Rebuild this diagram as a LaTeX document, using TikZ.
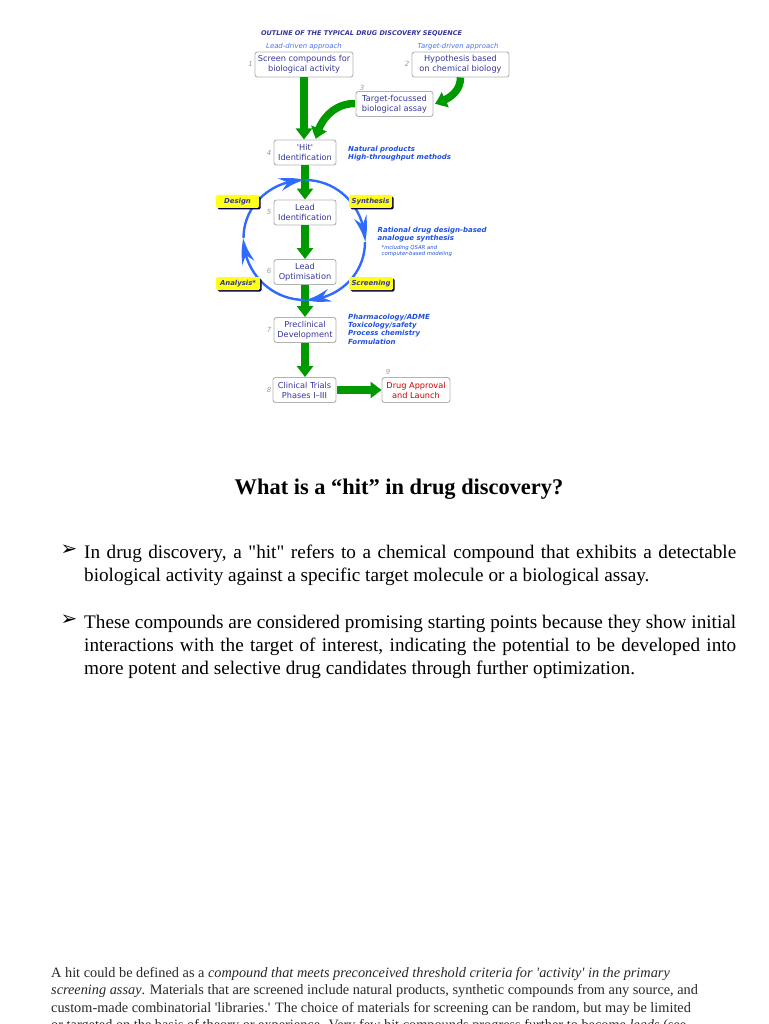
\documentclass[tikz,border=0pt]{standalone}
\usepackage{fontspec}
\setmainfont{Liberation Serif}[Ligatures=TeXOff]
\newfontfamily\chartfont{DejaVu Sans}
\usetikzlibrary{arrows.meta,bending,shadows}
\definecolor{chartnavy}{HTML}{35359A}
\definecolor{chartblue}{HTML}{1F4FE0}
\definecolor{chartgreen}{HTML}{009A00}
\definecolor{cycleblue}{HTML}{2F6BFF}
\definecolor{chartyellow}{HTML}{FFFF1A}
\tikzset{
  stagebox/.style={draw=black!30,line width=0.9pt,rounded corners=2.5pt,inner sep=0pt,align=center,
    text=chartnavy,font=\chartfont\fontsize{8.2}{10}\selectfont},
  tagbox/.style={fill=chartyellow,rounded corners=1.5pt,minimum width=43pt,minimum height=13pt,inner sep=0pt,
    text=chartnavy,font=\chartfont\fontsize{6.9}{8}\selectfont\bfseries\itshape,
    drop shadow={shadow xshift=1.5pt,shadow yshift=-1.5pt,fill=black!70!blue,opacity=1}},
  note/.style={anchor=north west,inner sep=0pt,align=left,text=chartblue,font=\chartfont\fontsize{7}{8.2}\selectfont\bfseries\itshape},
  stepnum/.style={inner sep=0pt,text=black!40,font=\chartfont\itshape\fontsize{7}{8}\selectfont},
  flow/.style={chartgreen,line width=7.5pt,-{Triangle[length=11pt,width=16pt,bend]}},
  cyclearc/.style={cycleblue,line width=2.4pt,-{Stealth[length=26pt,width=13pt,bend]}},
  para/.style={anchor=north west,inner sep=0pt,text width=652pt,align=justify,font=\fontsize{19.2}{23}\selectfont}
}
\begin{document}
\begin{tikzpicture}[x=1pt,y=-1pt]
      \useasboundingbox (0,0) rectangle (768,1024);
      \clip (0,0) rectangle (768,1024);
      \draw
        (361.5,34) node[text=chartnavy,inner sep=0pt,font=\chartfont\fontsize{6.5}{8}\selectfont\bfseries\itshape] (title){OUTLINE OF THE TYPICAL DRUG DISCOVERY SEQUENCE}
        (304,46.5) node[text=chartblue!80,inner sep=0pt,font=\chartfont\itshape\fontsize{6.9}{8}\selectfont] (leadhead){Lead-driven approach}
        (458,46.5) node[text=chartblue!80,inner sep=0pt,font=\chartfont\itshape\fontsize{6.9}{8}\selectfont] (targethead){Target-driven approach}
        (304,64.5) node[stagebox,minimum width=98pt,minimum height=25pt] (screen){Screen compounds for\\biological activity}
        (460.5,64.5) node[stagebox,minimum width=97pt,minimum height=25pt] (hypothesis){Hypothesis based\\on chemical biology}
        (394.5,104) node[stagebox,minimum width=77pt,minimum height=25pt] (assay){Target-focussed\\biological assay}
        (305,152.5) node[stagebox,minimum width=62pt,minimum height=25pt] (hit){'Hit'\\Identification}
        (305,212.5) node[stagebox,minimum width=62pt,minimum height=25pt] (leadid){Lead\\Identification}
        (305,272) node[stagebox,minimum width=62pt,minimum height=25pt] (leadopt){Lead\\Optimisation}
        (305,330) node[stagebox,minimum width=62pt,minimum height=25pt] (preclin){Preclinical\\Development}
        (304.5,390) node[stagebox,minimum width=63pt,minimum height=25pt] (trials){Clinical Trials\\Phases I–III}
        (416,390) node[stagebox,minimum width=68pt,minimum height=25pt,text=red!80!black] (launch){Drug Approval\\and Launch};
      \draw
        (250.5,64) node[stepnum] (num1){1}
        (407,64) node[stepnum] (num2){2}
        (362,88) node[stepnum] (num3){3}
        (269,153) node[stepnum] (num4){4}
        (269,212) node[stepnum] (num5){5}
        (269,271) node[stepnum] (num6){6}
        (269,330) node[stepnum] (num7){7}
        (269,390) node[stepnum] (num8){8}
        (388,372) node[stepnum] (num9){9};
      \draw
        (348,146) node[note] (hitnote){Natural products\\High-throughput methods}
        (377.5,226.5) node[note] (designnote){Rational drug design-based\\analogue synthesis}
        (381.5,245.5) node[note,font=\chartfont\itshape\fontsize{5.35}{6.2}\selectfont] (qsarnote){*including QSAR and\\computer-based modeling}
        (348,314) node[note] (prenote){Pharmacology/ADME\\Toxicology/safety\\Process chemistry\\Formulation};
      \coordinate (hitin) at (316,139);
      \coordinate (assayout) at (355,103.5);
      \coordinate (assayin) at (435,103.5);
      \coordinate (cycleN) at (305,180);
      \coordinate (cycleE) at (365,242);
      \coordinate (cycleS) at (305,300);
      \coordinate (cycleW) at (243.5,238);
      \begin{scope}[flow]
        \draw (screen.south) to (304,139.5);
        \draw (hypothesis.south) to[out=-90,in=15] (assayin);
        \draw (assayout) to[out=180,in=80] (hitin);
        \draw (hit.south) to (leadid.north);
        \draw (leadid.south) to (leadopt.north);
        \draw (leadopt.south) to (preclin.north);
        \draw (preclin.south) to (preclin.south |- trials.north);
        \draw (337,390) to (launch.west);
      \end{scope}
      \begin{scope}[cyclearc]
        \draw (cycleW) to[out=90,in=180] (cycleN);
        \draw (cycleN) to[out=0,in=90] (cycleE);
        \draw (cycleE) to[out=-90,in=0] (cycleS);
        \draw (cycleS) to[out=180,in=-90] (cycleW);
      \end{scope}
      \draw
        (237.5,201.5) node[tagbox] (design){Design}
        (370.5,201.5) node[tagbox] (synthesis){Synthesis}
        (238,283.5) node[tagbox,minimum width=44pt] (analysis){Analysis*}
        (371,283.5) node[tagbox,minimum width=44pt] (screening){Screening};
      \draw
        (399,489.5) node[inner sep=0pt,font=\fontsize{22.4}{25}\selectfont\bfseries] (question){What is a “hit” in drug discovery?}
        (69,550) node[inner sep=0pt,font=\chartfont\fontsize{20}{22}\selectfont] (bulleta){➢}
        (69,620) node[inner sep=0pt,font=\chartfont\fontsize{20}{22}\selectfont] (bulletb){➢}
        (84,544.5) node[para] (parta){In drug discovery, a "hit" refers to a chemical compound that exhibits a detectable\linebreak biological activity against a specific target molecule or a biological assay.}
        (84,614.5) node[para] (partb){These compounds are considered promising starting points because they show initial\linebreak interactions with the target of interest, indicating the potential to be developed into\linebreak more potent and selective drug candidates through further optimization.}
        (51,967) node[anchor=north west,inner sep=0pt,align=left,text=black!85,font=\fontsize{14.3}{17.4}\selectfont] (define){A hit could be defined as a \textit{compound that meets preconceived threshold criteria for 'activity' in the primary}\\\textit{screening assay}. Materials that are screened include natural products, synthetic compounds from any source, and\\custom-made combinatorial 'libraries.' The choice of materials for screening can be random, but may be limited\\or targeted on the basis of theory or experience. Very few hit compounds progress further to become \textit{leads} (see};
    \end{tikzpicture}
\end{document}
